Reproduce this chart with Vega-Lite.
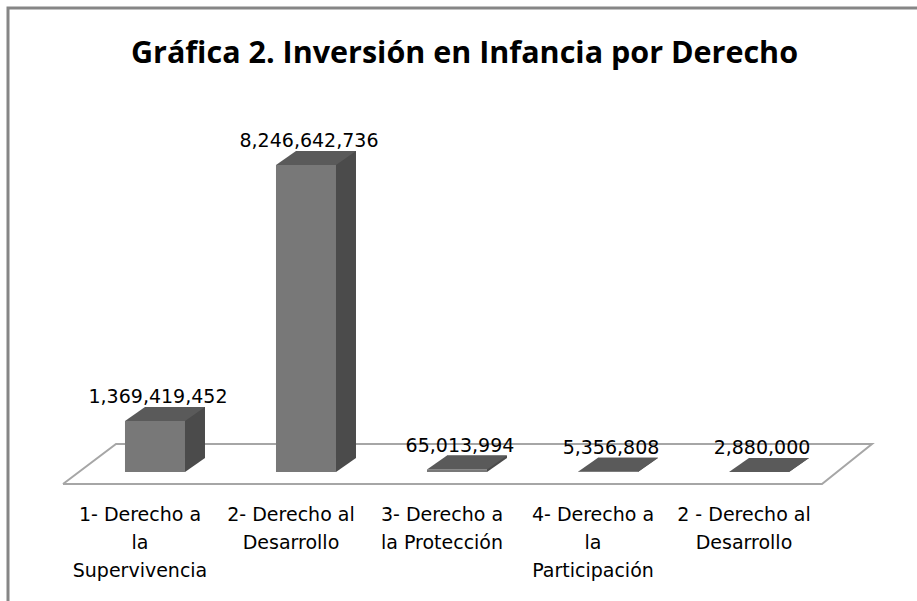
{
  "$schema": "https://vega.github.io/schema/vega-lite/v6.json",
  "width": 915,
  "height": 599,
  "autosize": "none",
  "padding": {"left": 8, "top": 8, "right": -6, "bottom": -6},
  "background": "white",
  "title": {
    "text": "Gráfica 2. Inversión en Infancia  por Derecho",
    "font": "Open Sans",
    "fontSize": 30.5,
    "fontWeight": "bold",
    "color": "#000000",
    "anchor": "middle",
    "frame": "group",
    "baseline": "alphabetic",
    "offset": -85,
    "dx": -1
  },
  "config": {
    "view": {"stroke": "#868686", "strokeWidth": 3}
  },
  "resolve": {"scale": {"x": "independent"}},
  "layer": [
    {
      "data": {
        "values": [
          {"k": 0, "fx": -0.6093, "fy": -322400000},
          {"k": 1, "fx": -0.2583, "fy": 752100000},
          {"k": 2, "fx": 4.7483, "fy": 752100000},
          {"k": 3, "fx": 4.4172, "fy": -322400000},
          {"k": 4, "fx": -0.6093, "fy": -322400000}
        ]
      },
      "mark": {"type": "line", "color": "#a6a6a6", "strokeWidth": 2, "clip": false},
      "encoding": {
        "x": {"field": "fx", "type": "quantitative", "scale": {"domain": [-0.9735, 5.0861], "nice": false, "zero": false}, "axis": null},
        "y": {"field": "fy", "type": "quantitative", "scale": {"domain": [-3626400000, 12464000000], "nice": false, "zero": false}, "axis": null},
        "order": {"field": "k", "type": "quantitative"}
      }
    },
    {
      "data": {
        "values": [
          {"derecho": "1- Derecho a la Supervivencia", "inversion": 1369419452},
          {"derecho": "2- Derecho al Desarrollo", "inversion": 8246642736},
          {"derecho": "3- Derecho a la Protección", "inversion": 65013994},
          {"derecho": "4- Derecho a la Participación", "inversion": 5356808},
          {"derecho": "2 - Derecho al Desarrollo", "inversion": 2880000}
        ]
      },
      "encoding": {
        "x": {
          "field": "derecho",
          "type": "nominal",
          "sort": null,
          "scale": {"paddingInner": 0.6026, "paddingOuter": 0.8311, "align": 0.4661, "round": false},
          "axis": {
            "orient": "bottom",
            "offset": -98,
            "title": null,
            "domain": false,
            "ticks": false,
            "tickSize": 0,
            "grid": false,
            "labelAngle": 0,
            "labelPadding": 11,
            "labelOffset": -15,
            "labelBaseline": "alphabetic",
            "labelFont": "DejaVu Sans",
            "labelFontSize": 19,
            "labelColor": "#000000",
            "labelLineHeight": 28,
            "labelLimit": 0,
            "labelOverlap": false,
            "labelExpr": "datum.value == '1- Derecho a la Supervivencia' ? ['1- Derecho a', 'la', 'Supervivencia'] : datum.value == '2- Derecho al Desarrollo' ? ['2- Derecho al', 'Desarrollo'] : datum.value == '3- Derecho a la Protección' ? ['3- Derecho a', 'la Protección'] : datum.value == '4- Derecho a la Participación' ? ['4- Derecho a', 'la', 'Participación'] : ['2 - Derecho al', 'Desarrollo']"
          }
        }
      },
      "layer": [
        {
          "mark": {"type": "bar", "color": "#4b4b4b", "xOffset": 20, "x2Offset": 20, "yOffset": -14, "y2Offset": -14, "clip": false},
          "encoding": {
            "y": {"field": "inversion", "type": "quantitative", "scale": {"domain": [-3626400000, 12464000000], "nice": false, "zero": false}, "axis": null},
            "y2": {"datum": 0}
          }
        },
        {
          "mark": {"type": "point", "shape": "M30,0L30,-14L50,-14Z", "size": 4, "filled": true, "opacity": 1, "color": "#4b4b4b", "strokeWidth": 0},
          "encoding": {
            "y": {"datum": 0, "type": "quantitative"}
          }
        },
        {
          "mark": {"type": "bar", "color": "#787878", "clip": false},
          "encoding": {
            "y": {"field": "inversion", "type": "quantitative"},
            "y2": {"datum": 0}
          }
        },
        {
          "mark": {"type": "point", "shape": "M-30,0L30,0L50,-14L-10,-14Z", "size": 4, "filled": true, "opacity": 1, "color": "#5a5a5a", "strokeWidth": 0},
          "encoding": {
            "y": {"field": "inversion", "type": "quantitative"}
          }
        },
        {
          "mark": {"type": "text", "font": "DejaVu Sans", "fontSize": 19, "color": "#000000", "baseline": "alphabetic", "align": "center", "xOffset": 3, "yOffset": -18},
          "encoding": {
            "y": {"field": "inversion", "type": "quantitative"},
            "text": {"field": "inversion", "type": "quantitative", "format": ","}
          }
        }
      ]
    }
  ]
}
